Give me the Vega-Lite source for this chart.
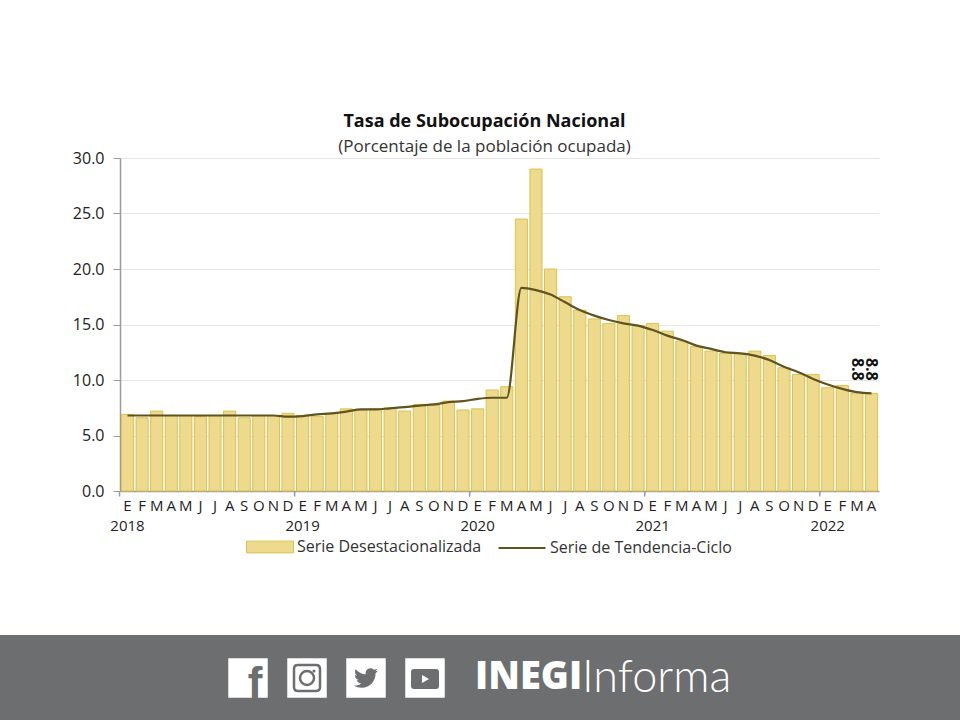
{
"$schema":"https://vega.github.io/schema/vega-lite/v6.json",
"width":759,"height":333,
"autosize":"none",
"padding":{"left":120,"top":158,"right":81,"bottom":229},
"background":"white",
"config":{"view":{"stroke":null},"font":"Open Sans","legend":{"padding":0}},
"title":{"text":"Tasa de Subocupación Nacional","subtitle":"(Porcentaje de la población ocupada)","anchor":"middle","dx":-15,"offset":-5,"font":"Open Sans","fontSize":18,"fontWeight":"bold","color":"#111111","subtitleFont":"Open Sans","subtitleFontSize":17,"subtitleColor":"#333333","subtitlePadding":8},
"datasets":{"serie":[
{"mes":"2018-01","desest":6.9,"tend":6.8},{"mes":"2018-02","desest":6.6,"tend":6.8},{"mes":"2018-03","desest":7.2,"tend":6.8},{"mes":"2018-04","desest":6.8,"tend":6.8},{"mes":"2018-05","desest":6.8,"tend":6.8},{"mes":"2018-06","desest":6.7,"tend":6.8},{"mes":"2018-07","desest":6.8,"tend":6.8},{"mes":"2018-08","desest":7.2,"tend":6.8},{"mes":"2018-09","desest":6.6,"tend":6.8},{"mes":"2018-10","desest":6.8,"tend":6.8},{"mes":"2018-11","desest":6.8,"tend":6.8},{"mes":"2018-12","desest":7.0,"tend":6.7},
{"mes":"2019-01","desest":6.8,"tend":6.75},{"mes":"2019-02","desest":6.7,"tend":6.9},{"mes":"2019-03","desest":7.0,"tend":7.0},{"mes":"2019-04","desest":7.4,"tend":7.15},{"mes":"2019-05","desest":7.3,"tend":7.35},{"mes":"2019-06","desest":7.4,"tend":7.35},{"mes":"2019-07","desest":7.5,"tend":7.45},{"mes":"2019-08","desest":7.2,"tend":7.55},{"mes":"2019-09","desest":7.8,"tend":7.7},{"mes":"2019-10","desest":7.7,"tend":7.8},{"mes":"2019-11","desest":8.1,"tend":8.0},{"mes":"2019-12","desest":7.3,"tend":8.1},
{"mes":"2020-01","desest":7.4,"tend":8.3},{"mes":"2020-02","desest":9.1,"tend":8.4},{"mes":"2020-03","desest":9.4,"tend":8.4},{"mes":"2020-04","desest":24.5,"tend":18.3},{"mes":"2020-05","desest":29.0,"tend":18.1},{"mes":"2020-06","desest":20.0,"tend":17.7},{"mes":"2020-07","desest":17.5,"tend":17.0},{"mes":"2020-08","desest":16.3,"tend":16.3},{"mes":"2020-09","desest":15.5,"tend":15.8},{"mes":"2020-10","desest":15.1,"tend":15.4},{"mes":"2020-11","desest":15.8,"tend":15.1},{"mes":"2020-12","desest":14.9,"tend":14.9},
{"mes":"2021-01","desest":15.1,"tend":14.5},{"mes":"2021-02","desest":14.4,"tend":14.0},{"mes":"2021-03","desest":13.5,"tend":13.6},{"mes":"2021-04","desest":13.0,"tend":13.1},{"mes":"2021-05","desest":12.6,"tend":12.8},{"mes":"2021-06","desest":12.4,"tend":12.5},{"mes":"2021-07","desest":12.4,"tend":12.4},{"mes":"2021-08","desest":12.6,"tend":12.2},{"mes":"2021-09","desest":12.2,"tend":11.8},{"mes":"2021-10","desest":11.1,"tend":11.2},{"mes":"2021-11","desest":10.5,"tend":10.7},{"mes":"2021-12","desest":10.5,"tend":10.1},
{"mes":"2022-01","desest":9.3,"tend":9.6},{"mes":"2022-02","desest":9.5,"tend":9.2},{"mes":"2022-03","desest":8.8,"tend":8.9},{"mes":"2022-04","desest":8.8,"tend":8.8}
]},
"resolve":{"scale":{"x":"independent","y":"independent"}},
"layer":[
{"data":{"name":"serie"},
 "encoding":{
  "x":{"field":"mes","type":"nominal","sort":null,"scale":{"type":"band","paddingInner":0.17,"paddingOuter":0.1}},
  "y":{"type":"quantitative","scale":{"domain":[0,30],"nice":false}}
 },
 "layer":[
 {"mark":{"type":"bar","stroke":"#dcc14f","strokeWidth":1},
  "encoding":{
   "x":{"field":"mes","type":"nominal","sort":null,"title":null,"axis":{"labelAngle":0,"ticks":false,"domainColor":"#9a9a9a","domainWidth":1.5,"labelColor":"#222222","labelFontSize":15,"labelPadding":7,"labelLineHeight":20,"labelBaseline":"top","labelOverlap":false,"labelLimit":0,"labelExpr":"slice(datum.label,5)=='01' ? ['E',slice(datum.label,0,4)] : substring('EFMAMJJASOND',+slice(datum.label,5)-1,+slice(datum.label,5))"}},
   "y":{"field":"desest","type":"quantitative","title":null,"axis":{"values":[0,5,10,15,20,25,30],"format":".1f","gridColor":"#e6e6e6","domainColor":"#9a9a9a","domainWidth":1.5,"tickColor":"#9a9a9a","tickSize":7,"labelColor":"#222222","labelFontSize":16,"labelPadding":9}},
   "fill":{"datum":"Serie Desestacionalizada","scale":{"domain":["Serie Desestacionalizada"],"range":["#eeda8c"]},"legend":{"title":null,"orient":"none","legendX":126,"legendY":365,"symbolType":"M-1,-0.25H1V0.25H-1Z","symbolSize":2209,"symbolStrokeColor":"#dcc14f","symbolStrokeWidth":1,"labelFont":"Open Sans","labelFontSize":16,"labelColor":"#333333","labelOffset":3,"labelLimit":0}}
  }},
 {"transform":[{"filter":"slice(datum.mes,5)=='01'"}],
  "mark":{"type":"rule","color":"#9a9a9a","strokeWidth":1.5,"xOffset":-1.9},
  "encoding":{"x":{"field":"mes","type":"nominal","sort":null,"bandPosition":0},"y":{"datum":0},"y2":{"datum":-0.5}}},
 {"mark":{"type":"line","interpolate":"monotone","strokeWidth":2.2},
  "encoding":{"y":{"field":"tend","type":"quantitative"},
   "stroke":{"datum":"Serie de Tendencia-Ciclo","scale":{"domain":["Serie de Tendencia-Ciclo"],"range":["#5f5320"]},"legend":{"title":null,"orient":"none","legendX":377,"legendY":365,"symbolType":"stroke","symbolSize":2209,"symbolStrokeWidth":2.2,"labelFont":"Open Sans","labelFontSize":16,"labelColor":"#333333","labelOffset":3,"labelLimit":0}}}},
 {"transform":[{"filter":"datum.mes=='2022-03' || datum.mes=='2022-04'"}],
  "mark":{"type":"text","angle":90,"dx":-24,"fontSize":16,"fontWeight":"bold","color":"#111111","align":"center","baseline":"middle"},
  "encoding":{"y":{"field":"desest","type":"quantitative"},"text":{"field":"desest","type":"quantitative","format":".1f"}}}
 ]},
{"data":{"values":[{"pie":"INEGI Informa"}]},
 "layer":[
 {"mark":{"type":"rect","color":"#6d6e70"},"encoding":{"x":{"datum":0,"type":"quantitative","axis":null,"scale":{"domain":[0,960],"range":[-120,840],"nice":false,"zero":false}},"x2":{"datum":960},"y":{"datum":635,"type":"quantitative","axis":null,"scale":{"domain":[0,720],"range":[-158,562],"nice":false,"zero":false}},"y2":{"datum":720}}},
 {"mark":{"type":"point","filled":true,"opacity":1,"color":"white","shape":"M-1,-1H1V1H-1Z","size":1560},"encoding":{"x":{"datum":248,"type":"quantitative"},"y":{"datum":678,"type":"quantitative"}}},
 {"mark":{"type":"point","filled":true,"opacity":1,"color":"white","shape":"M-1,-1H1V1H-1Z","size":1560},"encoding":{"x":{"datum":307,"type":"quantitative"},"y":{"datum":678,"type":"quantitative"}}},
 {"mark":{"type":"point","filled":true,"opacity":1,"color":"white","shape":"M-1,-1H1V1H-1Z","size":1560},"encoding":{"x":{"datum":366,"type":"quantitative"},"y":{"datum":678,"type":"quantitative"}}},
 {"mark":{"type":"point","filled":true,"opacity":1,"color":"white","shape":"M-1,-1H1V1H-1Z","size":1560},"encoding":{"x":{"datum":425,"type":"quantitative"},"y":{"datum":678,"type":"quantitative"}}},
 {"mark":{"type":"text","text":"f","font":"Liberation Sans","fontWeight":"bold","fontSize":44,"color":"#6d6e70","align":"center","baseline":"alphabetic"},"encoding":{"x":{"datum":255,"type":"quantitative"},"y":{"datum":698,"type":"quantitative"}}},
 {"mark":{"type":"point","filled":false,"opacity":1,"color":"#6d6e70","strokeWidth":2.5,"size":4,"shape":"M-13,-9Q-13,-13,-9,-13H9Q13,-13,13,-9V9Q13,13,9,13H-9Q-13,13,-13,9Z"},"encoding":{"x":{"datum":307,"type":"quantitative"},"y":{"datum":678,"type":"quantitative"}}},
 {"mark":{"type":"point","shape":"circle","filled":false,"opacity":1,"color":"#6d6e70","strokeWidth":2.5,"size":196},"encoding":{"x":{"datum":307,"type":"quantitative"},"y":{"datum":678,"type":"quantitative"}}},
 {"mark":{"type":"point","shape":"circle","filled":true,"opacity":1,"color":"#6d6e70","size":10},"encoding":{"x":{"datum":314,"type":"quantitative"},"y":{"datum":671,"type":"quantitative"}}},
 {"mark":{"type":"point","filled":true,"opacity":1,"color":"#6d6e70","size":4,"shape":"M11.953 -7.43a10 10 0 0 1 -2.825 .775 4.958 4.958 0 0 0 2.163 -2.723c-.951 .555 -2.005 .959 -3.127 1.184a4.92 4.92 0 0 0 -8.384 4.482C-4.31 -3.905 -7.933 -5.87 -10.36 -8.838a4.822 4.822 0 0 0 -.666 2.475c0 1.71 .87 3.213 2.188 4.096a4.904 4.904 0 0 1 -2.228 -.616v.06a4.923 4.923 0 0 0 3.946 4.827 4.996 4.996 0 0 1 -2.212 .085 4.936 4.936 0 0 0 4.604 3.417 9.867 9.867 0 0 1 -6.102 2.105c-.39 0 -.779 -.023 -1.17 -.067a13.995 13.995 0 0 0 7.557 2.209c9.053 0 13.998 -7.496 13.998 -13.985 0 -.21 0 -.42 -.015 -.63A9.935 9.935 0 0 0 12 -7.41z"},"encoding":{"x":{"datum":366,"type":"quantitative"},"y":{"datum":678,"type":"quantitative"}}},
 {"mark":{"type":"point","filled":true,"opacity":1,"color":"#6d6e70","size":4,"shape":"M-14,-7Q-14,-10,-11,-10H11Q14,-10,14,-7V7Q14,10,11,10H-11Q-14,10,-14,7Z"},"encoding":{"x":{"datum":425,"type":"quantitative"},"y":{"datum":679,"type":"quantitative"}}},
 {"mark":{"type":"point","filled":true,"opacity":1,"color":"white","size":4,"shape":"M-3,-4L4,0L-3,4Z"},"encoding":{"x":{"datum":425,"type":"quantitative"},"y":{"datum":679,"type":"quantitative"}}},
 {"mark":{"type":"text","text":"INEGI","font":"Open Sans","fontWeight":800,"fontSize":38,"color":"white","align":"left","baseline":"middle"},"encoding":{"x":{"datum":475,"type":"quantitative"},"y":{"datum":678,"type":"quantitative"}}},
 {"mark":{"type":"text","text":"Informa","font":"Lato","fontWeight":300,"fontSize":45,"color":"white","align":"left","baseline":"middle"},"encoding":{"x":{"datum":582,"type":"quantitative"},"y":{"datum":678,"type":"quantitative"}}}
 ]}
]}
